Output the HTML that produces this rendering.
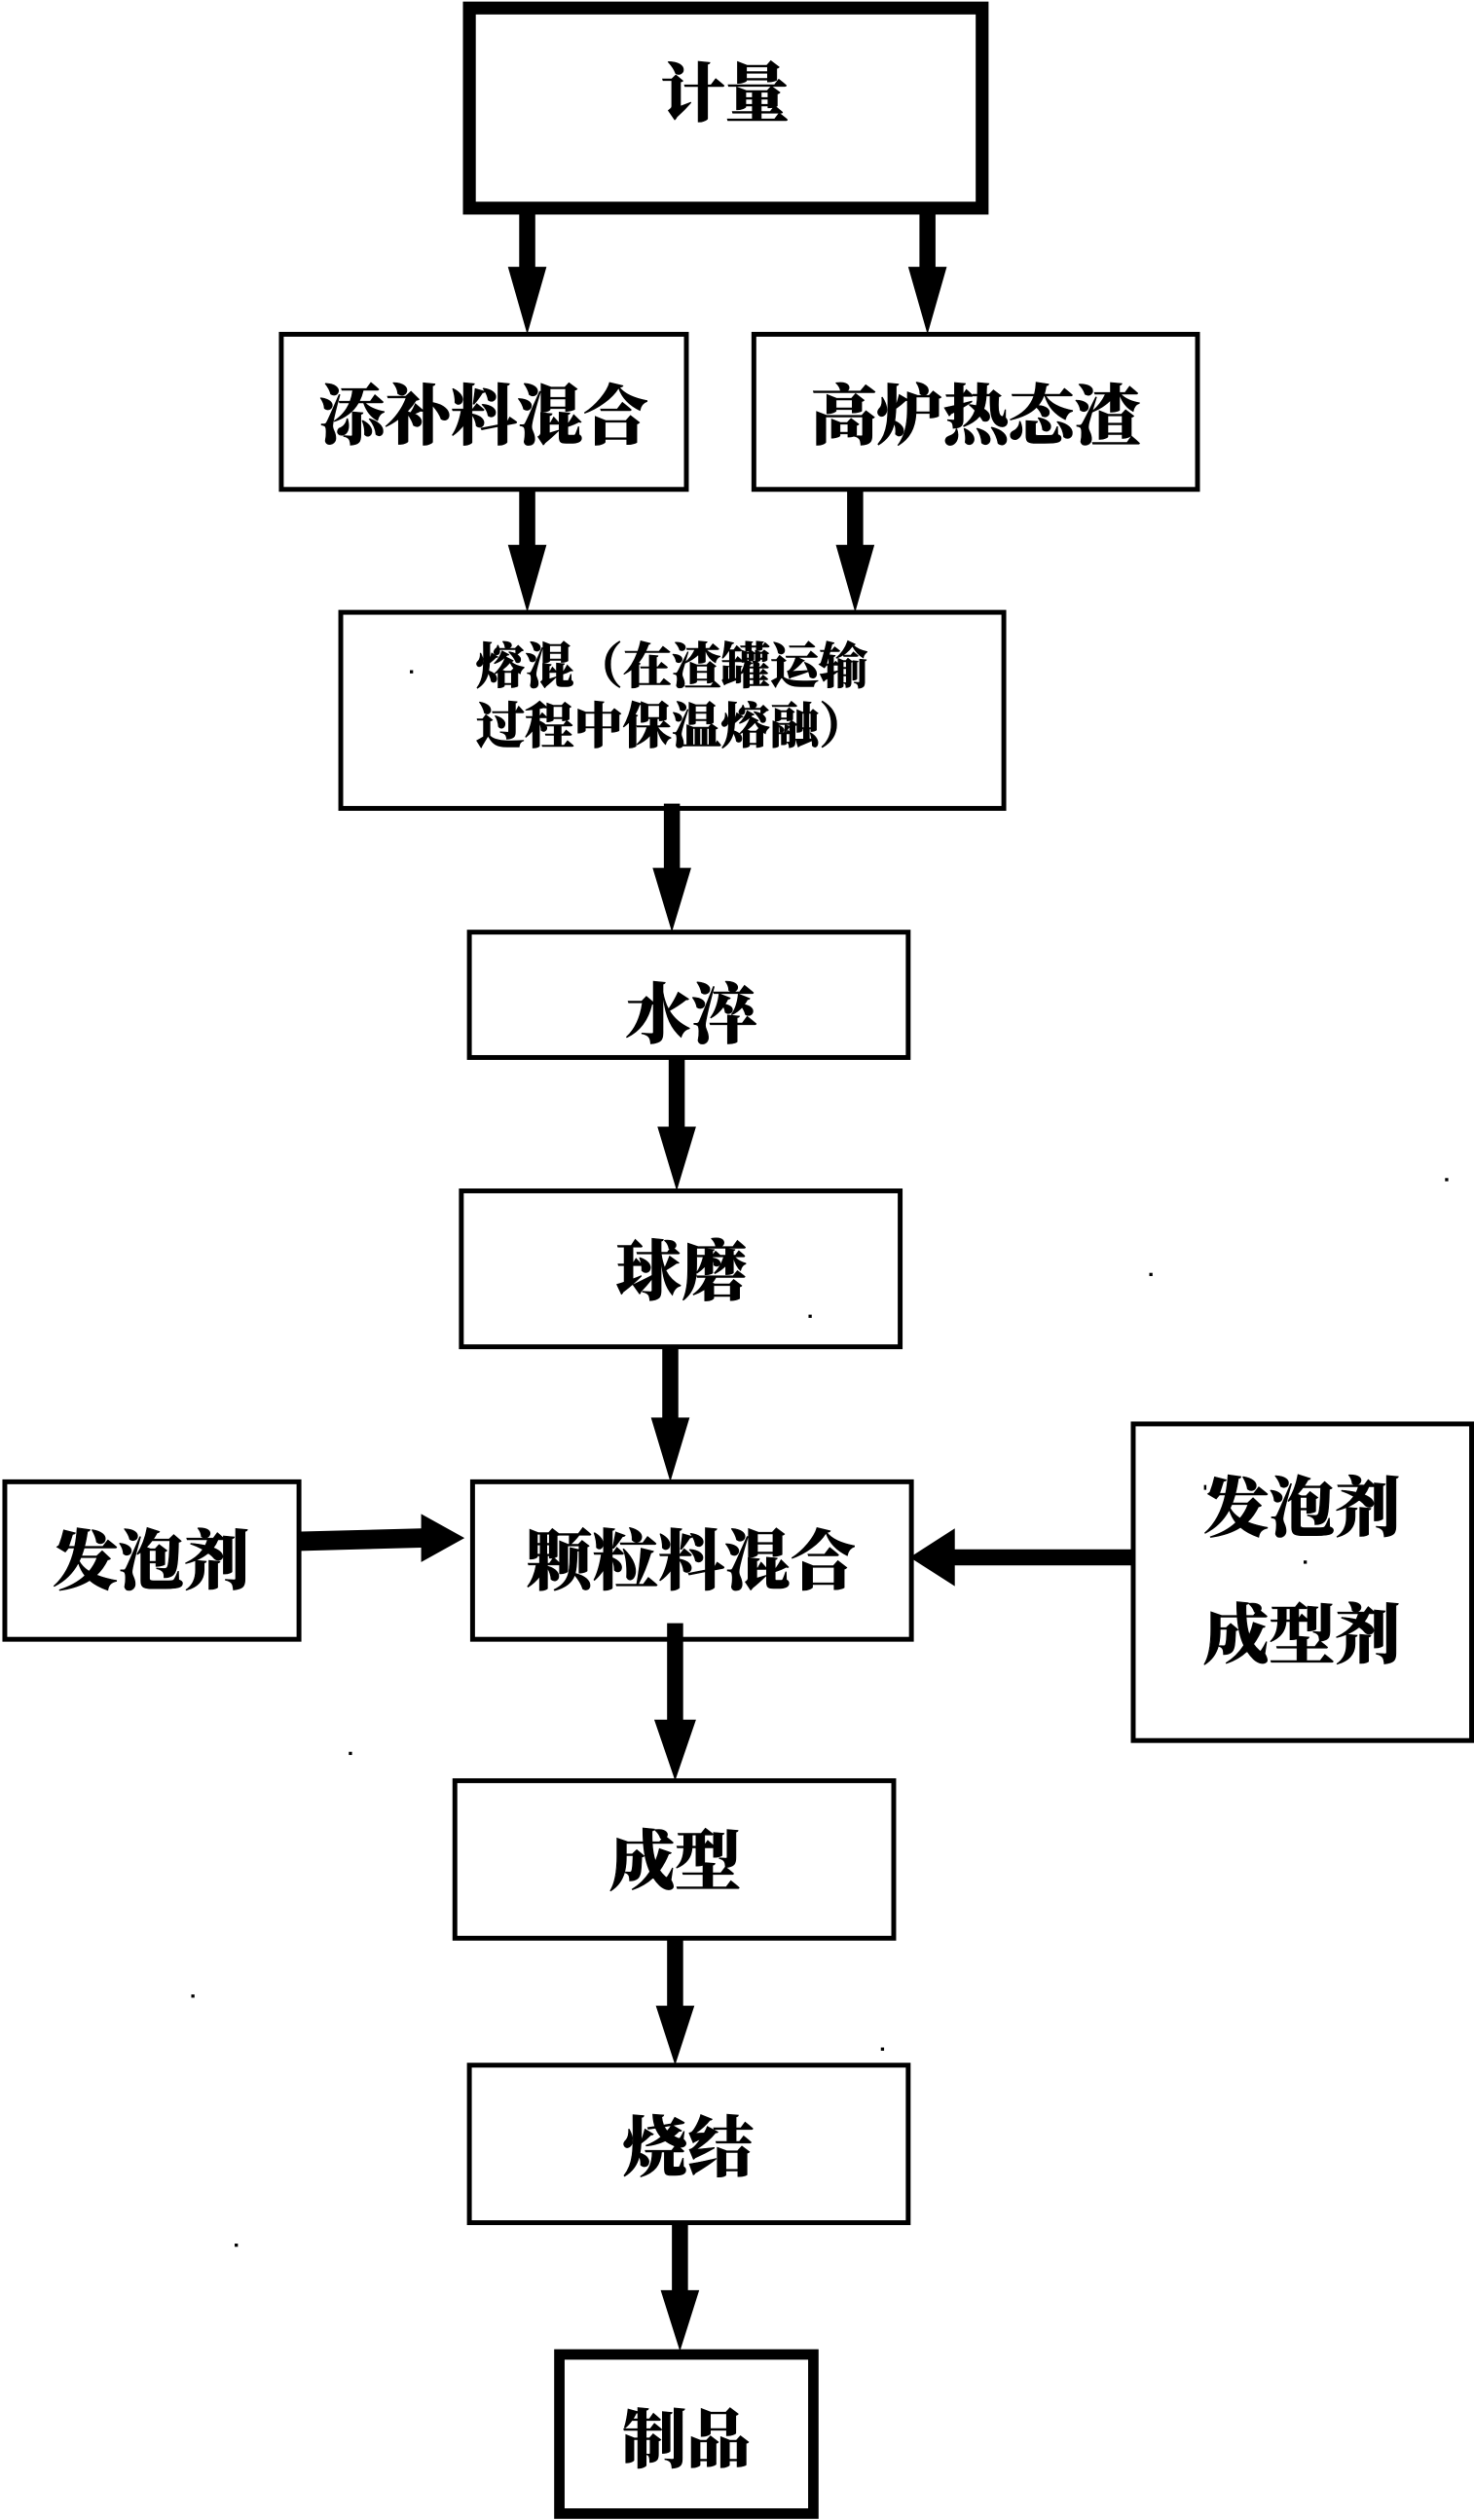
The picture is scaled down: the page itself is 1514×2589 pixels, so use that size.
<!DOCTYPE html>
<html lang="zh"><head><meta charset="utf-8"><style>
html,body{margin:0;padding:0;background:#fff;width:1514px;height:2589px;overflow:hidden}
svg{display:block}
text{font-family:"Liberation Serif","Noto Serif CJK SC","Noto Sans CJK SC",serif;font-weight:900;fill:#000;stroke:#000;stroke-width:.35;text-anchor:middle;dominant-baseline:central}
rect{fill:none;stroke:#000}
</style></head><body>
<svg width="1514" height="2589" viewBox="0 0 917 1568" preserveAspectRatio="none" xmlns="http://www.w3.org/2000/svg">
<rect width="917" height="1568" style="fill:#fff;stroke:none"/>
<g stroke-width="3">
<rect x="175" y="208" width="252" height="96.5"/>
<rect x="469" y="208" width="276" height="96.5"/>
<rect x="212" y="381" width="412.5" height="122"/>
<rect x="292" y="580" width="273" height="78"/>
<rect x="287" y="741" width="273" height="97"/>
<rect x="294" y="922" width="273" height="98"/>
<rect x="3" y="922" width="183" height="98"/>
<rect x="705" y="886" width="210.5" height="197"/>
<rect x="283" y="1108" width="273" height="98"/>
<rect x="292" y="1285" width="273" height="98"/>
</g>
<rect x="292" y="5" width="319" height="124.5" stroke-width="8"/>
<rect x="348" y="1465" width="158" height="99" stroke-width="6.5"/>
<g fill="#000" stroke="none">
<path d="M323 132h10v34h7l-12 42-12-42h7z"/>
<path d="M572 132h10v34h7l-12 42-12-42h7z"/>
<path d="M323 305h10v34h7l-12 42-12-42h7z"/>
<path d="M527 305h10v34h7l-12 42-12-42h7z"/>
<path d="M413 500h10v40h7l-12 40-12-40h7z"/>
<path d="M416 659h10v42h7l-12 40-12-40h7z"/>
<path d="M412 838h10v44h7l-12 40-12-40h7z"/>
<path d="M415 1010h10v60h8l-13 38-13-38h8z"/>
<path d="M415 1206h10v42h7l-12 37-12-37h7z"/>
<path d="M418 1383h10v42h7l-12 38-12-38h7z"/>
<path d="M187 953l75-2v-9l27 15-27 15v-9l-75 2z"/>
<path d="M704 964h-110v-13l-28 18 28 18v-13h110z"/>
<rect x="899" y="733" width="2" height="2" style="fill:#000;stroke:none"/>
<rect x="715" y="792" width="2" height="2" style="fill:#000;stroke:none"/>
<rect x="503" y="818" width="2" height="2" style="fill:#000;stroke:none"/>
<rect x="749" y="924" width="1.5" height="3" style="fill:#000;stroke:none"/>
<rect x="811" y="971" width="2" height="2" style="fill:#000;stroke:none"/>
<rect x="217" y="1090" width="2" height="2" style="fill:#000;stroke:none"/>
<rect x="119" y="1241" width="2" height="2" style="fill:#000;stroke:none"/>
<rect x="548" y="1274" width="2" height="2" style="fill:#000;stroke:none"/>
<rect x="146" y="1396" width="2" height="2" style="fill:#000;stroke:none"/>
<rect x="255" y="417" width="2" height="2" style="fill:#000;stroke:none"/>
</g>
<text x="451" y="59" font-size="40">计量</text>
<text x="301" y="259.5" font-size="41">添补料混合</text>
<text x="607" y="259.5" font-size="41">高炉热态渣</text>
<text x="418" y="415" font-size="30.5">熔混（在渣罐运输</text>
<text x="418" y="452" font-size="30.5">过程中保温熔融）</text>
<text x="430" y="632" font-size="41">水淬</text>
<text x="424" y="792" font-size="41">球磨</text>
<text x="430" y="972" font-size="41">颗粒料混合</text>
<text x="94" y="972" font-size="41">发泡剂</text>
<text x="810" y="939" font-size="41">发泡剂</text>
<text x="810" y="1018" font-size="41">成型剂</text>
<text x="420" y="1159" font-size="41">成型</text>
<text x="428" y="1337" font-size="41">烧结</text>
<text x="427" y="1519" font-size="40">制品</text>
</svg>
</body></html>
